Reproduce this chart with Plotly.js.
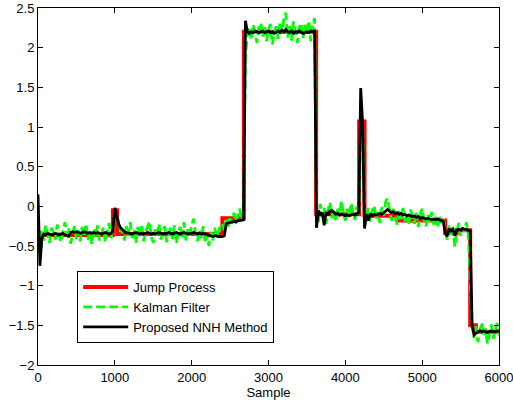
<!DOCTYPE html>
<html>
<head>
<meta charset="utf-8">
<script src="https://cdn.plot.ly/plotly-3.0.1.min.js"></script>
<style>html,body{margin:0;padding:0;background:#fff;}#chart{width:513px;height:403px;}</style>
</head>
<body>
<div id="chart"></div>
<script>
// Sample grid step (samples between stored points)
var sampleStep = 25;

// Jump process (piecewise constant): breakpoints and levels
var jumpSamples = [0, 975, 1030, 2400, 2680, 3620, 4180, 4250, 4700, 5300, 5450, 5625, 5700, 6000];
var jumpLevels  = [-0.36, -0.05, -0.35, -0.15, 2.2, -0.1, 1.07, -0.12, -0.18, -0.34, -0.3, -1.5, -1.58, -1.58];

// Kalman filter estimate, one value every 25 samples (0..6000)
var kalman = [
 -0.58,-0.38,-0.30,-0.43,-0.24,-0.37,-0.46,-0.27,-0.33,-0.42,
 -0.23,-0.36,-0.45,-0.31,-0.20,-0.38,-0.28,-0.47,-0.34,-0.25,
 -0.41,-0.30,-0.44,-0.26,-0.37,-0.22,-0.42,-0.32,-0.48,-0.28,
 -0.38,-0.24,-0.43,-0.33,-0.27,-0.45,-0.35,-0.21,-0.40,-0.30,
 -0.03,-0.12,-0.22,-0.30,
 -0.33,-0.43,-0.25,-0.37,-0.20,-0.40,-0.30,-0.46,-0.26,-0.38,
 -0.23,-0.44,-0.33,-0.27,-0.19,-0.39,-0.46,-0.29,-0.37,-0.22,
 -0.42,-0.31,-0.25,-0.45,-0.35,-0.27,-0.41,-0.24,-0.47,-0.33,
 -0.26,-0.39,-0.20,-0.43,-0.29,-0.37,-0.23,-0.16,-0.35,-0.44,
 -0.30,-0.40,-0.25,-0.46,-0.36,-0.50,-0.32,-0.43,-0.27,-0.39,
 -0.31,-0.24,
 -0.22,-0.31,-0.17,-0.26,-0.13,-0.22,-0.08,-0.20,-0.11,-0.03,-0.17,-0.07,
 1.9,2.15,
 2.26,2.10,2.29,2.18,2.06,2.25,2.31,2.14,2.28,2.08,
 2.23,2.30,2.04,2.18,2.27,2.11,2.32,2.19,2.36,2.44,
 2.13,2.28,2.09,2.33,2.18,2.06,2.26,2.31,2.12,2.29,
 2.17,2.34,2.08,2.30,2.37,
 -0.05,
 -0.20,0.03,-0.13,-0.02,-0.22,-0.05,0.05,-0.15,-0.04,-0.19,
 -0.01,-0.12,0.07,-0.09,-0.18,-0.03,-0.13,0.04,-0.08,-0.17,
 0.00,-0.11,
 1.02,1.08,-0.05,
 -0.15,-0.02,-0.19,-0.05,0.01,-0.16,-0.07,-0.21,-0.01,-0.12,
 0.06,0.10,-0.07,-0.18,-0.03,-0.14,-0.23,-0.05,-0.16,-0.02,
 -0.19,-0.09,-0.24,-0.04,-0.15,-0.22,-0.08,-0.26,-0.11,-0.03,
 -0.18,-0.25,-0.10,-0.20,-0.07,-0.23,-0.13,-0.27,-0.11,-0.21,
 -0.15,
 -0.30,-0.42,-0.23,-0.36,-0.26,-0.51,-0.33,-0.21,-0.37,-0.27,-0.32,-0.20,-0.35,
 -0.85,-1.48,
 -1.66,-1.51,-1.71,-1.56,-1.46,-1.63,-1.54,-1.73,-1.60,-1.49,-1.67,-1.55,-1.47,-1.63
];

// Proposed NNH method estimate, one value every 25 samples (0..6000)
var nnh = [
 0.15,-0.75,-0.40,-0.35,-0.36,-0.34,-0.35,-0.36,-0.35,-0.34,
 -0.35,-0.36,-0.35,-0.34,-0.36,-0.37,-0.38,-0.33,-0.32,-0.33,
 -0.32,-0.33,-0.34,-0.33,-0.32,-0.33,-0.34,-0.33,-0.34,-0.33,
 -0.34,-0.33,-0.34,-0.35,-0.34,-0.33,-0.34,-0.35,-0.34,-0.30,
 -0.02,-0.12,-0.22,-0.27,
 -0.30,-0.32,-0.33,-0.34,-0.34,-0.35,-0.34,-0.33,-0.34,-0.35,
 -0.34,-0.35,-0.34,-0.33,-0.34,-0.35,-0.34,-0.35,-0.34,-0.33,
 -0.34,-0.35,-0.34,-0.34,-0.33,-0.34,-0.35,-0.34,-0.33,-0.34,
 -0.35,-0.34,-0.33,-0.34,-0.35,-0.34,-0.34,-0.33,-0.34,-0.35,
 -0.34,-0.35,-0.34,-0.35,-0.36,-0.37,-0.37,-0.38,-0.37,-0.38,
 -0.38,-0.38,
 -0.38,-0.37,-0.22,-0.21,-0.20,-0.20,-0.19,-0.20,-0.18,-0.18,-0.17,-0.17,
 2.34,2.20,
 2.18,2.20,2.19,2.21,2.20,2.19,2.20,2.21,2.19,2.20,
 2.21,2.19,2.20,2.18,2.20,2.21,2.19,2.22,2.20,2.23,
 2.20,2.19,2.21,2.18,2.20,2.19,2.21,2.20,2.18,2.19,
 2.20,2.19,2.21,2.20,2.22,
 -0.27,
 -0.05,-0.10,-0.08,-0.24,-0.07,-0.11,-0.06,-0.05,-0.08,-0.10,
 -0.09,-0.11,-0.10,-0.11,-0.12,-0.11,-0.12,-0.11,-0.10,-0.11,
 -0.10,-0.08,
 1.49,1.05,-0.28,
 -0.10,-0.18,-0.09,-0.12,-0.10,-0.11,-0.10,-0.09,-0.10,-0.08,
 -0.07,-0.04,-0.06,-0.08,-0.07,-0.09,-0.08,-0.10,-0.09,-0.11,
 -0.10,-0.12,-0.11,-0.12,-0.13,-0.12,-0.14,-0.13,-0.15,-0.14,
 -0.15,-0.16,-0.15,-0.16,-0.17,-0.16,-0.17,-0.16,-0.17,-0.18,
 -0.19,
 -0.33,-0.38,-0.28,-0.31,-0.29,-0.37,-0.30,-0.29,-0.30,-0.28,-0.29,-0.29,-0.30,
 -0.31,-1.50,
 -1.62,-1.60,-1.58,-1.57,-1.58,-1.57,-1.58,-1.59,-1.58,-1.57,-1.58,-1.58,-1.57,-1.58
];

var seriesNames = ["Jump Process", "Kalman Filter", "Proposed NNH Method"];
var xTicks = [0, 1000, 2000, 3000, 4000, 5000, 6000];
var yTicks = [-2, -1.5, -1, -0.5, 0, 0.5, 1, 1.5, 2, 2.5];

var sampleAxis = kalman.map(function(_, i){ return i * sampleStep; });

var traces = [
  {x: jumpSamples, y: jumpLevels, name: seriesNames[0], mode: 'lines',
   line: {color: '#ff0000', width: 4, shape: 'hv'}},
  {x: sampleAxis, y: kalman, name: seriesNames[1], mode: 'lines',
   line: {color: '#00ff00', width: 2.8, dash: '9px,4px'}},
  {x: sampleAxis, y: nnh, name: seriesNames[2], mode: 'lines',
   line: {color: '#000000', width: 2.8}}
];

var axisCommon = {
  showgrid: false, zeroline: false, showline: true, mirror: 'ticks',
  linecolor: '#000', linewidth: 1, ticks: 'inside', ticklen: 5, tickcolor: '#000',
  tickfont: {size: 13, color: '#000'}, ticklabeloverflow: 'allow'
};

var layout = {
  width: 513, height: 403,
  margin: {l: 38, r: 14, t: 8, b: 38},
  paper_bgcolor: '#fff', plot_bgcolor: '#fff',
  font: {family: 'Liberation Sans, Arial, sans-serif', size: 13, color: '#000'},
  showlegend: true,
  legend: {x: 0.085, y: 0.263, xanchor: 'left', yanchor: 'top',
           bgcolor: '#fff', bordercolor: '#000', borderwidth: 1,
           itemwidth: 45, font: {size: 13, color: '#000'}, tracegroupgap: 0},
  xaxis: Object.assign({}, axisCommon, {range: [0, 6000], tickvals: xTicks,
           title: {text: 'Sample', font: {size: 13}, standoff: 2}}),
  yaxis: Object.assign({}, axisCommon, {range: [-2, 2.5], tickvals: yTicks})
};

Plotly.newPlot('chart', traces, layout, {displayModeBar: false, staticPlot: true});
</script>
</body>
</html>
